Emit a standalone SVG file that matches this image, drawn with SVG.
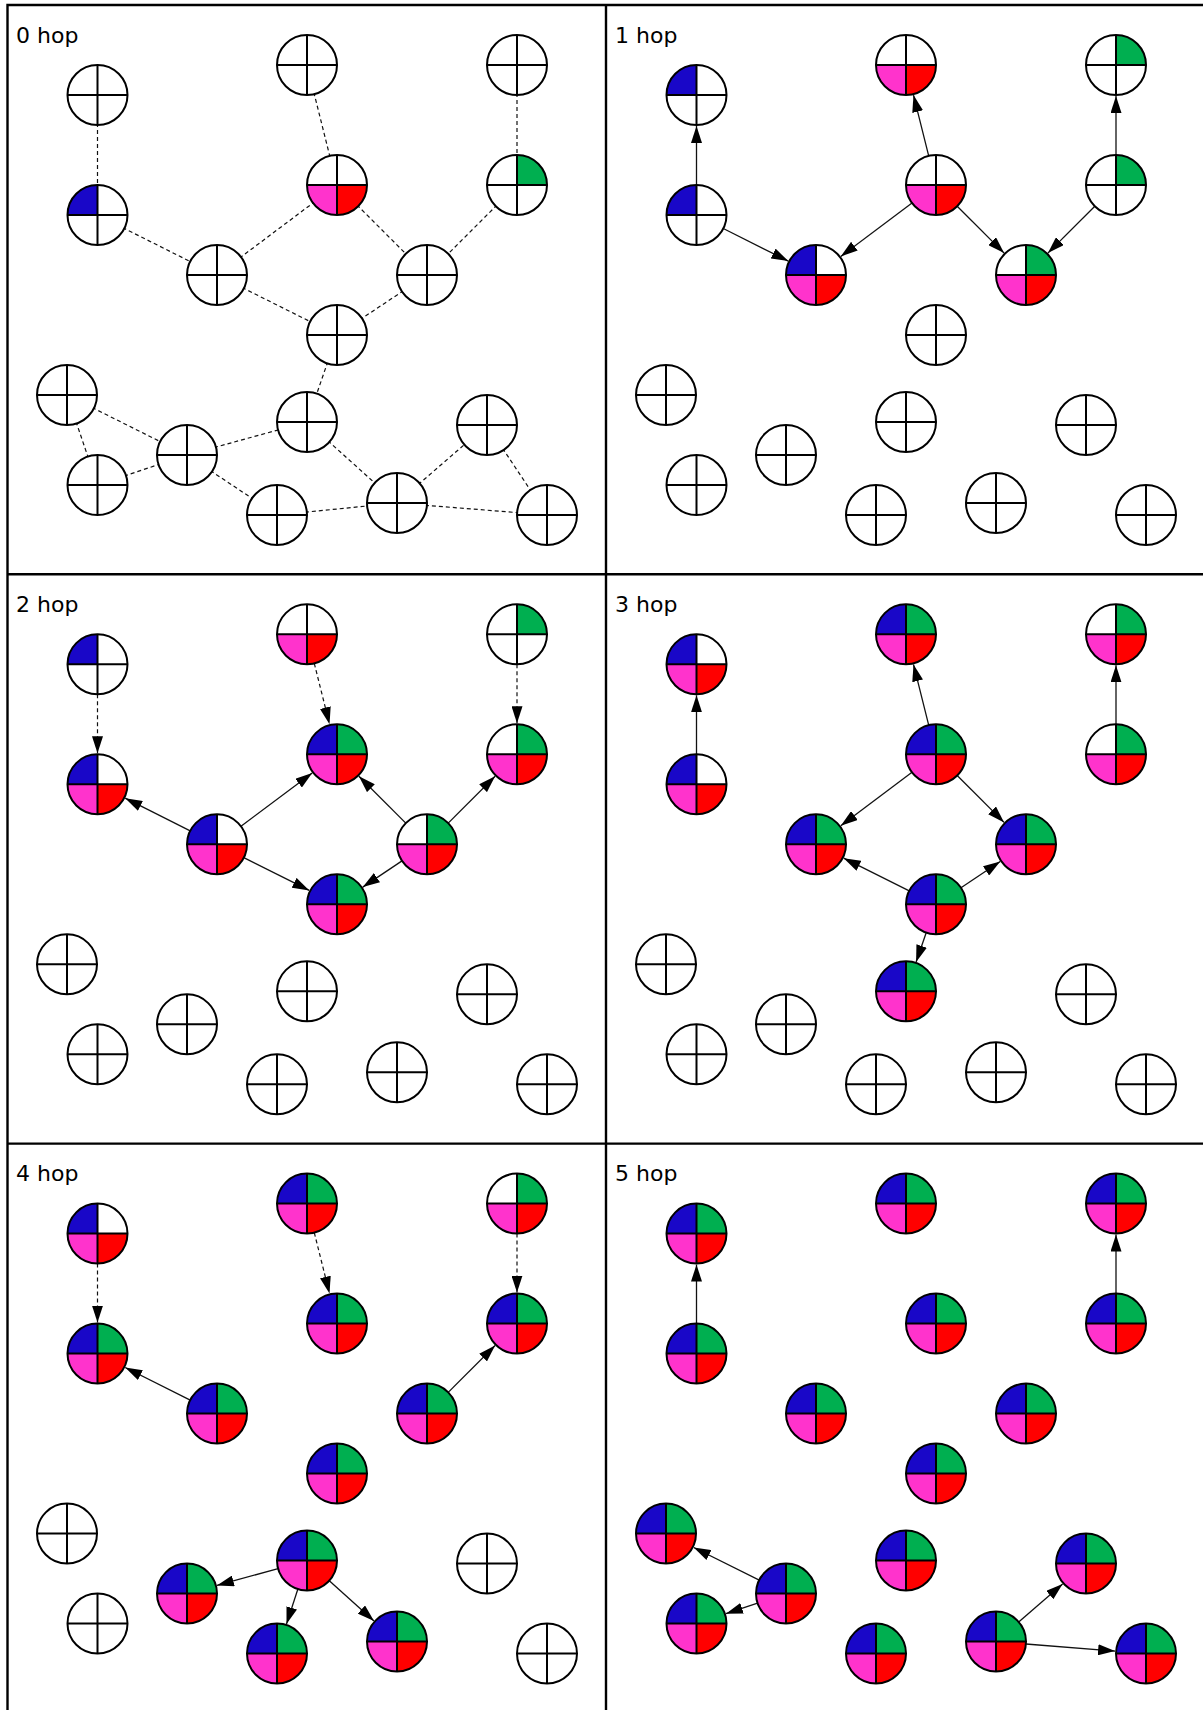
<svg xmlns="http://www.w3.org/2000/svg" xmlns:xlink="http://www.w3.org/1999/xlink" width="1203" height="1710" viewBox="0 0 1203 1710">
<style>
.frame{fill:none;stroke:#000;stroke-width:2.4}
.lbl{font-family:"DejaVu Sans",Verdana,sans-serif;font-size:22px;fill:#000}
.dash{stroke:#111;stroke-width:1.2;stroke-dasharray:4,3;fill:none}
.arr{stroke:#111;stroke-width:1.3;fill:none;marker-end:url(#ah)}
.darr{stroke:#111;stroke-width:1.2;stroke-dasharray:4,3;fill:none;marker-end:url(#ah)}
</style>
<defs>
<marker id="ah" markerUnits="userSpaceOnUse" markerWidth="17" markerHeight="11" viewBox="0 0 17 11" refX="17" refY="5.5" orient="auto">
<path d="M0,0L17,5.5L0,11Z" fill="#000"/>
</marker>
<path id="tl" d="M0,0H-30A30,30 0 0 1 0,-30Z"/>
<path id="tr" d="M0,0V-30A30,30 0 0 1 30,0Z"/>
<path id="bl" d="M0,0V30A30,30 0 0 1 -30,0Z"/>
<path id="br" d="M0,0H30A30,30 0 0 1 0,30Z"/>
<g id="ring"><circle r="30" fill="none" stroke="#000" stroke-width="2"/><path d="M-30,0H30M0,-30V30" fill="none" stroke="#000" stroke-width="2"/></g>
<g id="n-w"><circle r="30" fill="#fff"/><use href="#ring"/></g>
<g id="n-b"><circle r="30" fill="#fff"/><use href="#tl" fill="#1907C8"/><use href="#ring"/></g>
<g id="n-g"><circle r="30" fill="#fff"/><use href="#tr" fill="#00AF50"/><use href="#ring"/></g>
<g id="n-pr"><circle r="30" fill="#fff"/><use href="#bl" fill="#FF33CC"/><use href="#br" fill="#FF0000"/><use href="#ring"/></g>
<g id="n-bpr"><circle r="30" fill="#fff"/><use href="#tl" fill="#1907C8"/><use href="#bl" fill="#FF33CC"/><use href="#br" fill="#FF0000"/><use href="#ring"/></g>
<g id="n-gpr"><circle r="30" fill="#fff"/><use href="#tr" fill="#00AF50"/><use href="#bl" fill="#FF33CC"/><use href="#br" fill="#FF0000"/><use href="#ring"/></g>
<g id="n-all"><circle r="30" fill="#fff"/><use href="#tl" fill="#1907C8"/><use href="#tr" fill="#00AF50"/><use href="#bl" fill="#FF33CC"/><use href="#br" fill="#FF0000"/><use href="#ring"/></g>
</defs>
<rect x="0" y="0" width="1203" height="1710" fill="#fff"/>
<g id="frames">
<path class="frame" d="M7.5,1710V5H1203M606,5V1710M7.5,574.3H1203M7.5,1143.6H1203"/>
</g>

<!-- Panel 0 -->
<g id="panel0">
<text class="lbl" x="16" y="42.5">0 hop</text>
<g id="p0-connectors">
<line class="dash" x1="97.5" y1="95" x2="97.5" y2="215"/>
<line class="dash" x1="307" y1="65" x2="337" y2="185"/>
<line class="dash" x1="517" y1="65" x2="517" y2="185"/>
<line class="dash" x1="97.5" y1="215" x2="217" y2="275"/>
<line class="dash" x1="217" y1="275" x2="337" y2="185"/>
<line class="dash" x1="337" y1="185" x2="427" y2="275"/>
<line class="dash" x1="517" y1="185" x2="427" y2="275"/>
<line class="dash" x1="217" y1="275" x2="337" y2="335"/>
<line class="dash" x1="427" y1="275" x2="337" y2="335"/>
<line class="dash" x1="337" y1="335" x2="307" y2="422"/>
<line class="dash" x1="67" y1="395" x2="187" y2="455"/>
<line class="dash" x1="67" y1="395" x2="97.5" y2="485"/>
<line class="dash" x1="97.5" y1="485" x2="187" y2="455"/>
<line class="dash" x1="187" y1="455" x2="307" y2="422"/>
<line class="dash" x1="187" y1="455" x2="277" y2="515"/>
<line class="dash" x1="307" y1="422" x2="397" y2="503"/>
<line class="dash" x1="277" y1="515" x2="397" y2="503"/>
<line class="dash" x1="397" y1="503" x2="487" y2="425"/>
<line class="dash" x1="487" y1="425" x2="547" y2="515"/>
<line class="dash" x1="397" y1="503" x2="547" y2="515"/>
</g>
<g id="p0-A" transform="translate(97.5,95)"><use href="#n-w"/></g>
<g id="p0-B" transform="translate(97.5,215)"><use href="#n-b"/></g>
<g id="p0-C" transform="translate(307,65)"><use href="#n-w"/></g>
<g id="p0-D" transform="translate(337,185)"><use href="#n-pr"/></g>
<g id="p0-E" transform="translate(217,275)"><use href="#n-w"/></g>
<g id="p0-F" transform="translate(517,65)"><use href="#n-w"/></g>
<g id="p0-G" transform="translate(517,185)"><use href="#n-g"/></g>
<g id="p0-H" transform="translate(427,275)"><use href="#n-w"/></g>
<g id="p0-I" transform="translate(337,335)"><use href="#n-w"/></g>
<g id="p0-J" transform="translate(67,395)"><use href="#n-w"/></g>
<g id="p0-K" transform="translate(307,422)"><use href="#n-w"/></g>
<g id="p0-L" transform="translate(187,455)"><use href="#n-w"/></g>
<g id="p0-M" transform="translate(97.5,485)"><use href="#n-w"/></g>
<g id="p0-N" transform="translate(277,515)"><use href="#n-w"/></g>
<g id="p0-O" transform="translate(397,503)"><use href="#n-w"/></g>
<g id="p0-P" transform="translate(487,425)"><use href="#n-w"/></g>
<g id="p0-Q" transform="translate(547,515)"><use href="#n-w"/></g>
</g>

<!-- Panel 1 -->
<g id="panel1" transform="translate(599,0)">
<text class="lbl" x="16" y="42.5">1 hop</text>
<g id="p1-connectors">
<line class="arr" x1="97.5" y1="185" x2="97.5" y2="126"/>
<line class="arr" x1="124.3" y1="228.5" x2="189.3" y2="261.1"/>
<line class="arr" x1="329.7" y1="155.9" x2="314.5" y2="95.1"/>
<line class="arr" x1="313" y1="203" x2="241.8" y2="256.4"/>
<line class="arr" x1="358.2" y1="206.2" x2="405.1" y2="253.1"/>
<line class="arr" x1="517" y1="155" x2="517" y2="96"/>
<line class="arr" x1="495.8" y1="206.2" x2="448.9" y2="253.1"/>
</g>
<g id="p1-A" transform="translate(97.5,95)"><use href="#n-b"/></g>
<g id="p1-B" transform="translate(97.5,215)"><use href="#n-b"/></g>
<g id="p1-C" transform="translate(307,65)"><use href="#n-pr"/></g>
<g id="p1-D" transform="translate(337,185)"><use href="#n-pr"/></g>
<g id="p1-E" transform="translate(217,275)"><use href="#n-bpr"/></g>
<g id="p1-F" transform="translate(517,65)"><use href="#n-g"/></g>
<g id="p1-G" transform="translate(517,185)"><use href="#n-g"/></g>
<g id="p1-H" transform="translate(427,275)"><use href="#n-gpr"/></g>
<g id="p1-I" transform="translate(337,335)"><use href="#n-w"/></g>
<g id="p1-J" transform="translate(67,395)"><use href="#n-w"/></g>
<g id="p1-K" transform="translate(307,422)"><use href="#n-w"/></g>
<g id="p1-L" transform="translate(187,455)"><use href="#n-w"/></g>
<g id="p1-M" transform="translate(97.5,485)"><use href="#n-w"/></g>
<g id="p1-N" transform="translate(277,515)"><use href="#n-w"/></g>
<g id="p1-O" transform="translate(397,503)"><use href="#n-w"/></g>
<g id="p1-P" transform="translate(487,425)"><use href="#n-w"/></g>
<g id="p1-Q" transform="translate(547,515)"><use href="#n-w"/></g>
</g>

<!-- Panel 2 -->
<g id="panel2" transform="translate(0,569.3)">
<text class="lbl" x="16" y="42.5">2 hop</text>
<g id="p2-connectors">
<line class="darr" x1="97.5" y1="125" x2="97.5" y2="184"/>
<line class="darr" x1="314.3" y1="94.1" x2="329.5" y2="154.9"/>
<line class="darr" x1="517" y1="95" x2="517" y2="154"/>
<line class="arr" x1="190.2" y1="261.5" x2="125.2" y2="228.9"/>
<line class="arr" x1="241" y1="257" x2="312.2" y2="203.6"/>
<line class="arr" x1="243.8" y1="288.4" x2="309.3" y2="321.1"/>
<line class="arr" x1="405.8" y1="253.8" x2="358.9" y2="206.9"/>
<line class="arr" x1="448.2" y1="253.8" x2="495.1" y2="206.9"/>
<line class="arr" x1="402" y1="291.6" x2="362.8" y2="317.8"/>
</g>
<g id="p2-A" transform="translate(97.5,95)"><use href="#n-b"/></g>
<g id="p2-B" transform="translate(97.5,215)"><use href="#n-bpr"/></g>
<g id="p2-C" transform="translate(307,65)"><use href="#n-pr"/></g>
<g id="p2-D" transform="translate(337,185)"><use href="#n-all"/></g>
<g id="p2-E" transform="translate(217,275)"><use href="#n-bpr"/></g>
<g id="p2-F" transform="translate(517,65)"><use href="#n-g"/></g>
<g id="p2-G" transform="translate(517,185)"><use href="#n-gpr"/></g>
<g id="p2-H" transform="translate(427,275)"><use href="#n-gpr"/></g>
<g id="p2-I" transform="translate(337,335)"><use href="#n-all"/></g>
<g id="p2-J" transform="translate(67,395)"><use href="#n-w"/></g>
<g id="p2-K" transform="translate(307,422)"><use href="#n-w"/></g>
<g id="p2-L" transform="translate(187,455)"><use href="#n-w"/></g>
<g id="p2-M" transform="translate(97.5,485)"><use href="#n-w"/></g>
<g id="p2-N" transform="translate(277,515)"><use href="#n-w"/></g>
<g id="p2-O" transform="translate(397,503)"><use href="#n-w"/></g>
<g id="p2-P" transform="translate(487,425)"><use href="#n-w"/></g>
<g id="p2-Q" transform="translate(547,515)"><use href="#n-w"/></g>
</g>

<!-- Panel 3 -->
<g id="panel3" transform="translate(599,569.3)">
<text class="lbl" x="16" y="42.5">3 hop</text>
<g id="p3-connectors">
<line class="arr" x1="97.5" y1="185" x2="97.5" y2="126"/>
<line class="arr" x1="329.7" y1="155.9" x2="314.5" y2="95.1"/>
<line class="arr" x1="517" y1="155" x2="517" y2="96"/>
<line class="arr" x1="313" y1="203" x2="241.8" y2="256.4"/>
<line class="arr" x1="358.2" y1="206.2" x2="405.1" y2="253.1"/>
<line class="arr" x1="310.2" y1="321.6" x2="244.7" y2="288.9"/>
<line class="arr" x1="362" y1="318.4" x2="401.2" y2="292.2"/>
<line class="arr" x1="327.2" y1="363.4" x2="317.1" y2="392.7"/>
</g>
<g id="p3-A" transform="translate(97.5,95)"><use href="#n-bpr"/></g>
<g id="p3-B" transform="translate(97.5,215)"><use href="#n-bpr"/></g>
<g id="p3-C" transform="translate(307,65)"><use href="#n-all"/></g>
<g id="p3-D" transform="translate(337,185)"><use href="#n-all"/></g>
<g id="p3-E" transform="translate(217,275)"><use href="#n-all"/></g>
<g id="p3-F" transform="translate(517,65)"><use href="#n-gpr"/></g>
<g id="p3-G" transform="translate(517,185)"><use href="#n-gpr"/></g>
<g id="p3-H" transform="translate(427,275)"><use href="#n-all"/></g>
<g id="p3-I" transform="translate(337,335)"><use href="#n-all"/></g>
<g id="p3-J" transform="translate(67,395)"><use href="#n-w"/></g>
<g id="p3-K" transform="translate(307,422)"><use href="#n-all"/></g>
<g id="p3-L" transform="translate(187,455)"><use href="#n-w"/></g>
<g id="p3-M" transform="translate(97.5,485)"><use href="#n-w"/></g>
<g id="p3-N" transform="translate(277,515)"><use href="#n-w"/></g>
<g id="p3-O" transform="translate(397,503)"><use href="#n-w"/></g>
<g id="p3-P" transform="translate(487,425)"><use href="#n-w"/></g>
<g id="p3-Q" transform="translate(547,515)"><use href="#n-w"/></g>
</g>

<!-- Panel 4 -->
<g id="panel4" transform="translate(0,1138.6)">
<text class="lbl" x="16" y="42.5">4 hop</text>
<g id="p4-connectors">
<line class="darr" x1="97.5" y1="125" x2="97.5" y2="184"/>
<line class="darr" x1="314.3" y1="94.1" x2="329.5" y2="154.9"/>
<line class="darr" x1="517" y1="95" x2="517" y2="154"/>
<line class="arr" x1="190.2" y1="261.5" x2="125.2" y2="228.9"/>
<line class="arr" x1="448.2" y1="253.8" x2="495.1" y2="206.9"/>
<line class="arr" x1="278.1" y1="430" x2="216.9" y2="446.8"/>
<line class="arr" x1="297.8" y1="450.6" x2="286.5" y2="485.5"/>
<line class="arr" x1="329.3" y1="442.1" x2="374" y2="482.3"/>
</g>
<g id="p4-A" transform="translate(97.5,95)"><use href="#n-bpr"/></g>
<g id="p4-B" transform="translate(97.5,215)"><use href="#n-all"/></g>
<g id="p4-C" transform="translate(307,65)"><use href="#n-all"/></g>
<g id="p4-D" transform="translate(337,185)"><use href="#n-all"/></g>
<g id="p4-E" transform="translate(217,275)"><use href="#n-all"/></g>
<g id="p4-F" transform="translate(517,65)"><use href="#n-gpr"/></g>
<g id="p4-G" transform="translate(517,185)"><use href="#n-all"/></g>
<g id="p4-H" transform="translate(427,275)"><use href="#n-all"/></g>
<g id="p4-I" transform="translate(337,335)"><use href="#n-all"/></g>
<g id="p4-J" transform="translate(67,395)"><use href="#n-w"/></g>
<g id="p4-K" transform="translate(307,422)"><use href="#n-all"/></g>
<g id="p4-L" transform="translate(187,455)"><use href="#n-all"/></g>
<g id="p4-M" transform="translate(97.5,485)"><use href="#n-w"/></g>
<g id="p4-N" transform="translate(277,515)"><use href="#n-all"/></g>
<g id="p4-O" transform="translate(397,503)"><use href="#n-all"/></g>
<g id="p4-P" transform="translate(487,425)"><use href="#n-w"/></g>
<g id="p4-Q" transform="translate(547,515)"><use href="#n-w"/></g>
</g>

<!-- Panel 5 -->
<g id="panel5" transform="translate(599,1138.6)">
<text class="lbl" x="16" y="42.5">5 hop</text>
<g id="p5-connectors">
<line class="arr" x1="97.5" y1="185" x2="97.5" y2="126"/>
<line class="arr" x1="517" y1="155" x2="517" y2="96"/>
<line class="arr" x1="160.2" y1="441.6" x2="94.7" y2="408.9"/>
<line class="arr" x1="158.6" y1="464.5" x2="126.9" y2="475.1"/>
<line class="arr" x1="419.7" y1="483.4" x2="463.6" y2="445.3"/>
<line class="arr" x1="426.9" y1="505.4" x2="516.1" y2="512.5"/>
</g>
<g id="p5-A" transform="translate(97.5,95)"><use href="#n-all"/></g>
<g id="p5-B" transform="translate(97.5,215)"><use href="#n-all"/></g>
<g id="p5-C" transform="translate(307,65)"><use href="#n-all"/></g>
<g id="p5-D" transform="translate(337,185)"><use href="#n-all"/></g>
<g id="p5-E" transform="translate(217,275)"><use href="#n-all"/></g>
<g id="p5-F" transform="translate(517,65)"><use href="#n-all"/></g>
<g id="p5-G" transform="translate(517,185)"><use href="#n-all"/></g>
<g id="p5-H" transform="translate(427,275)"><use href="#n-all"/></g>
<g id="p5-I" transform="translate(337,335)"><use href="#n-all"/></g>
<g id="p5-J" transform="translate(67,395)"><use href="#n-all"/></g>
<g id="p5-K" transform="translate(307,422)"><use href="#n-all"/></g>
<g id="p5-L" transform="translate(187,455)"><use href="#n-all"/></g>
<g id="p5-M" transform="translate(97.5,485)"><use href="#n-all"/></g>
<g id="p5-N" transform="translate(277,515)"><use href="#n-all"/></g>
<g id="p5-O" transform="translate(397,503)"><use href="#n-all"/></g>
<g id="p5-P" transform="translate(487,425)"><use href="#n-all"/></g>
<g id="p5-Q" transform="translate(547,515)"><use href="#n-all"/></g>
</g>
</svg>
